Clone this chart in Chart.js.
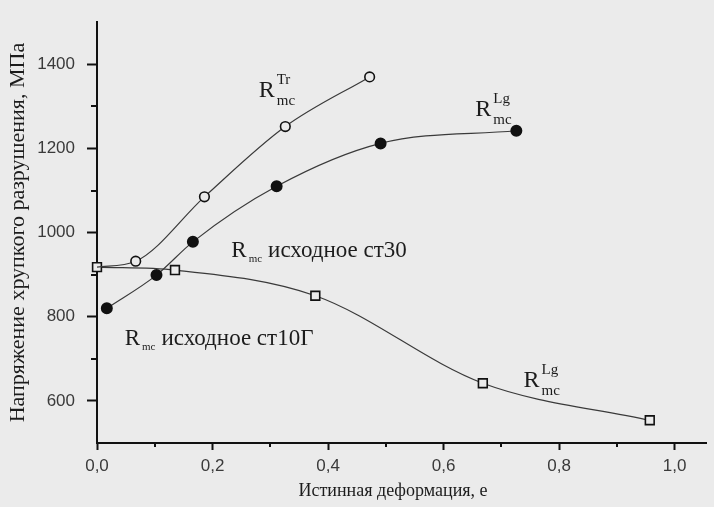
<!DOCTYPE html>
<html><head><meta charset="utf-8">
<script src="https://cdn.jsdelivr.net/npm/chart.js@4.4.1/dist/chart.umd.min.js"></script>
<style>html,body{margin:0;padding:0;background:#ebebeb;}#wrap{width:714px;height:507px;}</style>
</head><body><div id="wrap"><canvas id="c" width="714" height="507"></canvas></div>
<script>
// Data
const strainTr = [0, 0.067, 0.186, 0.326, 0.472];
const stressTr = [918, 932, 1085, 1252, 1370];
const strainLg30 = [0.017, 0.103, 0.166, 0.311, 0.491, 0.726];
const stressLg30 = [820, 899, 978, 1110, 1212, 1242];
const strainLg10 = [0, 0.135, 0.378, 0.668, 0.957];
const stressLg10 = [918, 911, 850, 642, 554];
const yAxisTitle = 'Напряжение хрупкого разрушения, МПа';
const xAxisTitle = 'Истинная деформация, е';

const BG = '#ebebeb';
const INK = '#1c1c1c';
const toPts = (xs, ys) => xs.map((x, i) => ({x: x, y: ys[i]}));

const notes = [
  {sup: 'Tr', sub: 'mc', rest: '', x: 0.28, y: 1323, size: 24},
  {sup: 'Lg', sub: 'mc', rest: '', x: 0.655, y: 1277, size: 24},
  {sup: 'Lg', sub: 'mc', rest: '', x: 0.7385, y: 632, size: 24},
  {sup: '', sub: 'mc', rest: 'исходное ст30', x: 0.2325, y: 943, size: 23},
  {sup: '', sub: 'mc', rest: 'исходное ст10Г', x: 0.0479, y: 734, size: 23}
];

const bgPlugin = {
  id: 'bg',
  beforeDraw(chart) {
    const ctx = chart.ctx;
    ctx.save(); ctx.fillStyle = BG; ctx.fillRect(0, 0, chart.width, chart.height); ctx.restore();
  }
};

const extras = {
  id: 'extras',
  afterDraw(chart) {
    const ctx = chart.ctx;
    const xs = chart.scales.x, ys = chart.scales.y;
    ctx.save();
    // minor ticks
    ctx.strokeStyle = '#111'; ctx.lineWidth = 2;
    ys.ticks.forEach(t => {
      if (t.value % 200 !== 0 && t.value > ys.min && t.value < ys.max) {
        const p = Math.round(ys.getPixelForValue(t.value));
        ctx.beginPath(); ctx.moveTo(xs.left - 6, p); ctx.lineTo(xs.left, p); ctx.stroke();
      }
    });
    xs.ticks.forEach(t => {
      const k = Math.round(t.value * 10);
      if (k % 2 !== 0) {
        const p = Math.round(xs.getPixelForValue(t.value));
        ctx.beginPath(); ctx.moveTo(p, ys.bottom); ctx.lineTo(p, ys.bottom + 4); ctx.stroke();
      }
    });
    // annotations
    ctx.fillStyle = INK;
    ctx.textBaseline = 'alphabetic';
    ctx.textAlign = 'left';
    notes.forEach(n => {
      const px = xs.getPixelForValue(n.x), py = ys.getPixelForValue(n.y);
      ctx.font = n.size + 'px "Liberation Serif"';
      ctx.fillText('R', px, py);
      const rw = ctx.measureText('R').width;
      if (n.rest) {
        ctx.font = '11px "Liberation Serif"';
        ctx.fillText(n.sub, px + rw + 2, py + 5);
        const sw = ctx.measureText(n.sub).width;
        ctx.font = n.size + 'px "Liberation Serif"';
        ctx.fillText(n.rest, px + rw + 2 + sw + 6, py);
      } else {
        ctx.font = '15px "Liberation Serif"';
        ctx.fillText(n.sup, px + rw + 2, py - 13);
        ctx.fillText(n.sub, px + rw + 2, py + 8);
      }
    });
    // x axis title
    ctx.font = '18px "Liberation Serif"';
    ctx.textAlign = 'center'; ctx.textBaseline = 'middle';
    ctx.fillText(xAxisTitle, 393, 491);
    ctx.restore();
  }
};

const lineStyle = {borderColor: '#3a3a3a', borderWidth: 1.2, cubicInterpolationMode: 'monotone', clip: false, pointBorderColor: '#111', pointBorderWidth: 1.6};

new Chart(document.getElementById('c'), {
  type: 'scatter',
  data: {
    datasets: [
      Object.assign({}, lineStyle, {
        label: 'R_mc^Tr', data: toPts(strainTr, stressTr), showLine: true,
        pointStyle: 'circle', pointRadius: strainTr.map((v, i) => i === 0 ? 0 : 4.8), pointBackgroundColor: BG
      }),
      Object.assign({}, lineStyle, {
        label: 'R_mc^Lg ст30', data: toPts(strainLg30, stressLg30), showLine: true,
        pointStyle: 'circle', pointRadius: 5.2, pointBackgroundColor: '#111'
      }),
      Object.assign({}, lineStyle, {
        label: 'R_mc^Lg ст10Г', data: toPts(strainLg10, stressLg10), showLine: true,
        pointStyle: 'rect', pointRadius: 6.2, pointBackgroundColor: BG
      })
    ]
  },
  options: {
    responsive: false, animation: false, devicePixelRatio: 1,
    layout: {padding: {top: 12, left: 0, right: 0, bottom: 0}},
    plugins: {legend: {display: false}, tooltip: {enabled: false}},
    scales: {
      x: {
        type: 'linear', position: 'bottom', min: 0, max: 1.0547,
        ticks: {
          stepSize: 0.1, includeBounds: false, autoSkip: false, maxRotation: 0, padding: 6,
          color: '#3a3a3a', font: {family: 'Liberation Sans', size: 17},
          callback: v => { const k = Math.round(v * 10); return k % 2 === 0 ? (k / 10).toFixed(1).replace('.', ',') : ''; }
        },
        grid: {display: true, drawOnChartArea: false, drawTicks: true, tickLength: 7, tickWidth: 2,
          tickColor: c => (c.tick && Math.round(c.tick.value * 10) % 2 === 0) ? '#111' : 'rgba(0,0,0,0)'},
        border: {display: true, color: '#111', width: 2},
        afterFit: s => { s.height = 64; }
      },
      y: {
        type: 'linear', min: 500, max: 1500,
        ticks: {
          stepSize: 100, includeBounds: false, autoSkip: false, padding: 12,
          color: '#3a3a3a', font: {family: 'Liberation Sans', size: 17},
          callback: v => v % 200 === 0 ? String(v) : ''
        },
        grid: {display: true, drawOnChartArea: false, drawTicks: true, tickLength: 10, tickWidth: 2,
          tickColor: c => (c.tick && c.tick.value % 200 === 0) ? '#111' : 'rgba(0,0,0,0)'},
        border: {display: true, color: '#111', width: 2},
        title: {display: true, text: yAxisTitle, color: INK, font: {family: 'Liberation Serif', size: 22}, padding: {top: 5, bottom: 0}},
        afterFit: s => { s.width = 97; }
      }
    }
  },
  plugins: [bgPlugin, extras]
});
</script>
</body></html>
